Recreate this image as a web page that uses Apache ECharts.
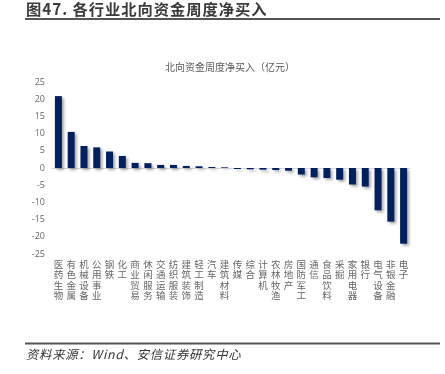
<!DOCTYPE html>
<html>
<head>
<meta charset="utf-8">
<script src="https://cdn.jsdelivr.net/npm/echarts@6/dist/echarts.min.js"></script>
<style>
html,body{margin:0;padding:0;background:#fff;}
#c{width:445px;height:374px;}
</style>
</head>
<body>
<div id="c"></div>
<script>
var categories = ['医药生物','有色金属','机械设备','公用事业','钢铁','化工','商业贸易','休闲服务','交通运输','纺织服装','建筑装饰','轻工制造','汽车','建筑材料','传媒','综合','计算机','农林牧渔','房地产','国防军工','通信','食品饮料','采掘','家用电器','银行','电气设备','非银金融','电子'];
var netBuy = [20.9,10.5,6.4,6.0,4.8,3.5,1.5,1.4,0.9,0.9,0.6,0.5,0.3,0.2,-0.3,-0.4,-0.5,-0.6,-0.8,-1.9,-2.7,-2.9,-3.4,-4.8,-5.4,-12.3,-15.6,-22.0];
var yTicks = [-25,-20,-15,-10,-5,0,5,10,15,20,25];
var figTitle = '图47. 各行业北向资金周度净买入';
var chartTitle = '北向资金周度净买入（亿元）';
var sourceText = '资料来源：Wind、安信证券研究中心';

function spaced(s, sep){ return s.split('').join(sep); }

var chart = echarts.init(document.getElementById('c'), null, {renderer:'canvas'});
chart.setOption({
  backgroundColor:'#fff',
  animation:false,
  grid:{left:52, right:35, top:82, bottom:120, containLabel:false},
  xAxis:[{
    type:'category', data:categories, position:'bottom',
    axisLine:{show:false, onZero:false}, axisTick:{show:false},
    axisLabel:{interval:0, margin:5, color:'#666', fontSize:9.5, lineHeight:10.5,
      fontFamily:'Noto Sans CJK SC', verticalAlign:'top',
      formatter:function(v){return v.split('').join('\n');}}
  },{
    type:'category', data:categories,
    axisLine:{show:true, onZero:true, lineStyle:{color:'#d9d9d9', width:1}},
    axisTick:{show:false}, axisLabel:{show:false}
  }],
  yAxis:{
    type:'value', min:yTicks[0], max:yTicks[yTicks.length-1], interval:5,
    axisLine:{show:false}, axisTick:{show:false}, splitLine:{show:false},
    axisLabel:{color:'#666', fontSize:9, margin:7, fontFamily:'Open Sans'}
  },
  series:[{
    type:'bar', data:netBuy, xAxisIndex:0, barWidth:7,
    itemStyle:{color:'#002060', shadowBlur:3, shadowOffsetX:2, shadowOffsetY:2, shadowColor:'rgba(0,0,0,0.35)'}
  }],
  graphic:[
    {type:'text', x:230, y:67, style:{text:chartTitle, fontSize:10, fill:'#595959', fontFamily:'Noto Sans CJK SC', align:'center', verticalAlign:'middle'}},
    {type:'text', x:26, y:9, style:{text:spaced(figTitle,'\u200A'), fontSize:15.3, fontWeight:'bold', fill:'#3a3a3a', fontFamily:'Noto Sans CJK SC', verticalAlign:'middle'}},
    {type:'rect', shape:{x:25, y:18, width:415, height:2}, style:{fill:'#555'}},
    {type:'rect', shape:{x:25, y:342.5, width:415, height:2}, style:{fill:'#555'}},
    {type:'text', x:26, y:354, style:{text:spaced(sourceText,'\u200A'), fontSize:12.3, fontStyle:'italic', fill:'#333', fontFamily:'Noto Sans CJK SC', verticalAlign:'middle'}}
  ]
});
</script>
</body>
</html>
